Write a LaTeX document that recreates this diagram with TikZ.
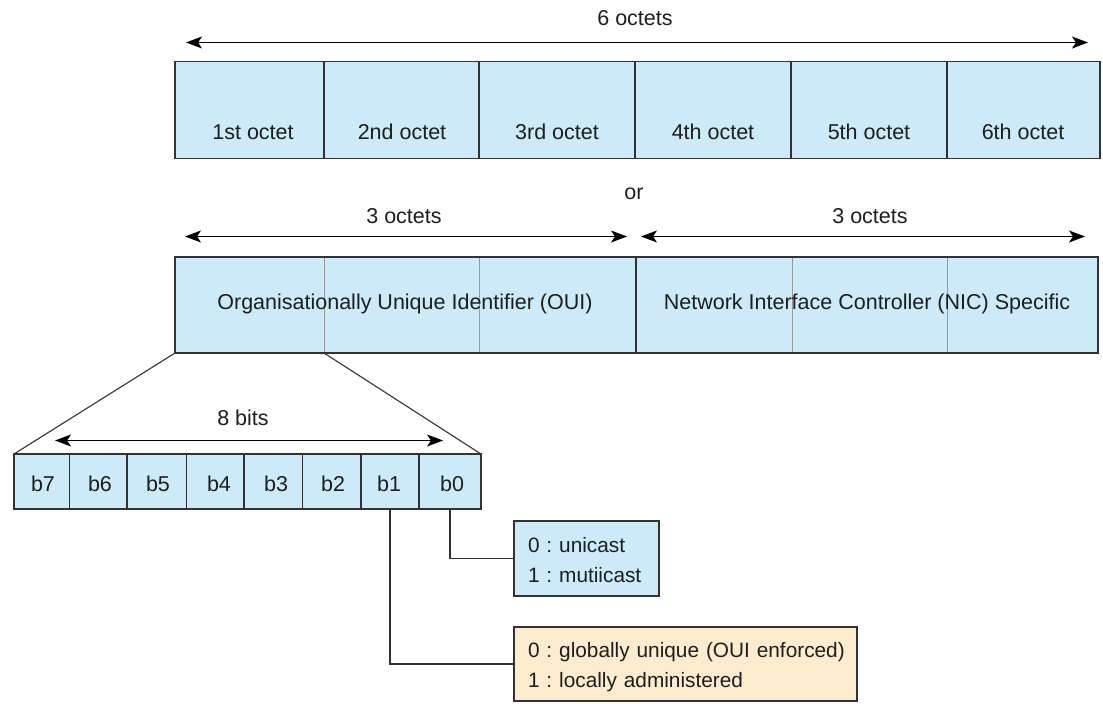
\documentclass[tikz,border=0pt]{standalone}
\usepackage{fontspec}
\setmainfont{Liberation Sans}
\frenchspacing
\usetikzlibrary{arrows.meta,calc}
\definecolor{cellblue}{RGB}{204,234,247}
\definecolor{cellorange}{RGB}{253,236,206}
\definecolor{edge}{RGB}{50,50,50}
\definecolor{txt}{RGB}{30,30,30}
\tikzset{
  cell/.style={draw=edge, line width=1.2pt, fill=cellblue, inner sep=0pt, outer sep=0pt},
  lbl/.style={text=txt, font=\fontsize{21.5}{24}\selectfont, inner sep=0pt},
  dim/.style={draw=black, line width=1.1pt, {Stealth[length=16pt,width=12pt,inset=4pt]}-{Stealth[length=16pt,width=12pt,inset=4pt]}},
  thin/.style={draw=gray!80, line width=0.8pt},
  conn/.style={draw=edge, line width=1.2pt},
  note/.style={draw=edge, line width=1.2pt, anchor=west, align=left, inner xsep=14pt, inner ysep=0pt,
     text=txt, font=\fontsize{20.8}{30}\selectfont, outer sep=0pt}
}
\newcommand{\tallstrut}{\rule{0pt}{26pt}}
\begin{document}
\begin{tikzpicture}[x=1pt,y=-1pt]
\useasboundingbox (0,0) rectangle (1103,704);
% top row
\node[cell, minimum width=149pt, minimum height=97pt] (c1) at (249.5,110) {};
\node[cell, minimum width=155pt, minimum height=97pt] (c2) at (401.5,110) {};
\node[cell, minimum width=156pt, minimum height=97pt] (c3) at (557,110) {};
\node[cell, minimum width=156pt, minimum height=97pt] (c4) at (713,110) {};
\node[cell, minimum width=156pt, minimum height=97pt] (c5) at (869,110) {};
\node[cell, minimum width=153pt, minimum height=97pt] (c6) at (1023.5,110) {};
\node[lbl] (t1) at (253,132) {1st octet};
\node[lbl] (t2) at (402,132) {2nd octet};
\node[lbl] (t3) at (557,132) {3rd octet};
\node[lbl] (t4) at (713,132) {4th octet};
\node[lbl] (t5) at (869,132) {5th octet};
\node[lbl] (t6) at (1023,132) {6th octet};
\coordinate (a6l) at (186,42.5);
\coordinate (a6r) at (1088,42.5);
\draw[dim] (a6l) -- (a6r);
\node[lbl] (six) at (635,18) {6 octets};
\node[lbl] (or) at (634,194) {or};
% second row
\node[cell, minimum width=461pt, minimum height=96pt] (oui) at (405.5,305) {};
\node[cell, minimum width=462pt, minimum height=96pt] (nic) at (867,305) {};
\coordinate (g1t) at (324,257); \coordinate (g1b) at (324,353);
\coordinate (g2t) at (479,257); \coordinate (g2b) at (479,353);
\coordinate (g3t) at (792,257); \coordinate (g3b) at (792,353);
\coordinate (g4t) at (947,257); \coordinate (g4b) at (947,353);
\draw[thin] (g1t) -- (g1b) (g2t) -- (g2b) (g3t) -- (g3b) (g4t) -- (g4b);
\draw[edge, line width=1.2pt] (oui.north west) rectangle (nic.south east);
\draw[edge, line width=1.2pt] (oui.north east) -- (oui.south east);
\node[lbl] (ouit) at (405,304) {Organisationally Unique Identifier (OUI)};
\node[lbl] (nict) at (867,304) {Network Interface Controller (NIC) Specific};
\coordinate (a3l) at (185,236.5);
\coordinate (a3m) at (627,236.5);
\coordinate (a3n) at (641,236.5);
\coordinate (a3r) at (1085,236.5);
\draw[dim] (a3l) -- (a3m);
\draw[dim] (a3n) -- (a3r);
\node[lbl] (th1) at (404,216) {3 octets};
\node[lbl] (th2) at (870,216) {3 octets};
% bits
\node[cell, minimum width=55.7pt, minimum height=55pt] (b7) at (41.85,481.5) {};
\node[cell, minimum width=57.3pt, minimum height=55pt] (b6) at (98.35,481.5) {};
\node[cell, minimum width=59.7pt, minimum height=55pt] (b5) at (156.85,481.5) {};
\node[cell, minimum width=57.3pt, minimum height=55pt] (b4) at (215.35,481.5) {};
\node[cell, minimum width=58.7pt, minimum height=55pt] (b3) at (273.35,481.5) {};
\node[cell, minimum width=58.3pt, minimum height=55pt] (b2) at (331.85,481.5) {};
\node[cell, minimum width=58pt, minimum height=55pt] (b1) at (390,481.5) {};
\node[cell, minimum width=62pt, minimum height=55pt] (b0) at (450,481.5) {};
\foreach \n/\x in {b7/43,b6/100,b5/158,b4/219,b3/276,b2/333,b1/389,b0/452}
  \node[lbl] at (\x,484) {\n};
\coordinate (a8l) at (55,440.5);
\coordinate (a8r) at (443,440.5);
\draw[dim] (a8l) -- (a8r);
\node[lbl] (eight) at (243,418) {8 bits};
\draw[edge, line width=1.1pt] (oui.south west) -- (b7.north west);
\draw[edge, line width=1.1pt] (g1b) -- (b0.north east);
% notes
\node[note, fill=cellblue, text width=117pt, minimum height=75pt] (uni) at (514,558.5) {\mbox{\tallstrut\strut 0 : unicast}\\\mbox{\strut 1 : mutiicast}};
\node[note, fill=cellorange, text width=315pt, minimum height=74pt] (glob) at (514,664) {\mbox{\tallstrut\strut 0 : globally unique (OUI enforced)}\\\mbox{\strut 1 : locally administered}};
\draw[conn] (b0.south) |- (uni.west);
\draw[conn] (b1.south) |- (glob.west);
\end{tikzpicture}
\end{document}
